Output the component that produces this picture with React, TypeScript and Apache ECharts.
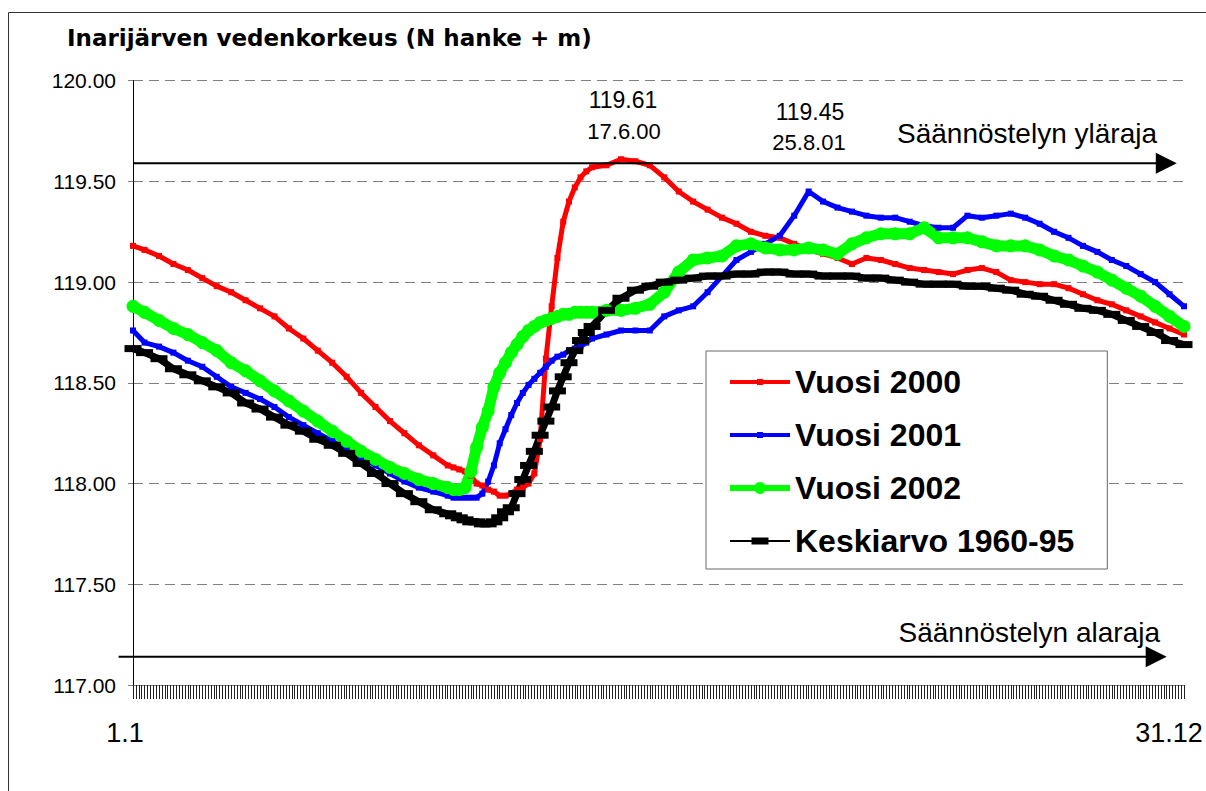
import { useEffect, useRef } from "react";
import * as echarts from "echarts";

// Day of year for each reading
const days = [
  1, 5, 10, 15, 20, 25, 30, 35, 40, 45, 50, 55, 60, 65, 70, 75, 80, 85, 90, 95, 100, 105, 110,
  112, 114, 116, 118, 120, 122, 124, 126, 128, 130, 132, 134, 136, 138, 140, 142, 144, 146, 148, 150, 152, 154, 156, 158, 160,
  165, 170, 175, 180, 185, 190, 195, 200, 205, 210, 215, 220, 225, 230, 235, 240, 245, 250, 255, 260,
  265, 270, 275, 280, 285, 290, 295, 300, 305, 310, 315, 320, 325, 330, 335, 340, 345, 350, 355, 360, 365,
];

const vuosi2000 = [
  119.18, 119.16, 119.13, 119.09, 119.06, 119.02, 118.98, 118.95, 118.91, 118.87, 118.83, 118.77, 118.72, 118.66, 118.6, 118.53, 118.45, 118.38, 118.31, 118.25, 118.19, 118.14, 118.09,
  118.08, 118.07, 118.06, 118.04, 118.0, 117.99, 117.97, 117.96, 117.94, 117.94, 117.95, 117.97, 117.98, 118.0, 118.05, 118.22, 118.62, 118.88, 119.12, 119.3, 119.4, 119.47, 119.52, 119.55, 119.57,
  119.58, 119.61, 119.6, 119.58, 119.52, 119.45, 119.4, 119.36, 119.32, 119.29, 119.25, 119.23, 119.22, 119.19, 119.16, 119.14, 119.12, 119.09, 119.12, 119.11,
  119.09, 119.07, 119.06, 119.05, 119.04, 119.06, 119.07, 119.05, 119.01, 119.0, 118.99, 118.99, 118.97, 118.94, 118.91, 118.89, 118.86, 118.83, 118.8, 118.77, 118.74,
];

const vuosi2001 = [
  118.76, 118.7, 118.68, 118.65, 118.61, 118.58, 118.53, 118.48, 118.45, 118.42, 118.38, 118.33, 118.29, 118.25, 118.21, 118.17, 118.13, 118.09, 118.05, 118.01, 117.98, 117.96, 117.94,
  117.93, 117.93, 117.93, 117.93, 117.93, 117.95, 118.01, 118.09, 118.2, 118.27, 118.34, 118.4, 118.45, 118.49, 118.52, 118.55, 118.58, 118.61, 118.63, 118.64, 118.66, 118.67, 118.68, 118.7, 118.72,
  118.74, 118.76, 118.76, 118.76, 118.83, 118.86, 118.88, 118.95, 119.03, 119.11, 119.15, 119.19, 119.23, 119.33, 119.45, 119.4, 119.37, 119.35, 119.33, 119.32,
  119.32, 119.3, 119.28, 119.27, 119.27, 119.33, 119.32, 119.33, 119.34, 119.32, 119.29, 119.25, 119.22, 119.18, 119.15, 119.11, 119.08, 119.04, 119.0, 118.94, 118.88,
];

const vuosi2002 = [
  118.88, 118.85, 118.81, 118.77, 118.74, 118.7, 118.66, 118.6, 118.56, 118.51, 118.46, 118.41, 118.36, 118.31, 118.26, 118.21, 118.16, 118.12, 118.08, 118.05, 118.02, 118.0, 117.98,
  117.97, 117.97, 117.98, 118.06, 118.18, 118.28, 118.36, 118.48, 118.55, 118.6, 118.65, 118.69, 118.73, 118.76, 118.78, 118.8, 118.81, 118.82, 118.83, 118.84, 118.84, 118.85, 118.85, 118.85, 118.85,
  118.86, 118.86, 118.87, 118.89, 118.95, 119.05, 119.11, 119.12, 119.13, 119.18, 119.19, 119.17, 119.16, 119.16, 119.17, 119.16, 119.14, 119.19, 119.22, 119.24,
  119.24, 119.24, 119.27, 119.22, 119.22, 119.22, 119.2, 119.18, 119.18, 119.18, 119.16, 119.13, 119.11, 119.08, 119.05, 119.01, 118.97, 118.93, 118.88, 118.83, 118.78,
];

const keskiarvo = [
  118.67, 118.65, 118.62, 118.57, 118.54, 118.51, 118.48, 118.45, 118.4, 118.37, 118.33, 118.29, 118.26, 118.22, 118.19, 118.15, 118.1, 118.05, 118.0, 117.95, 117.91, 117.87, 117.85,
  117.84, 117.83, 117.82, 117.81, 117.81, 117.8, 117.8, 117.81, 117.83, 117.86, 117.88, 117.95, 118.02, 118.09, 118.16, 118.24, 118.31, 118.38, 118.46, 118.53, 118.6, 118.66, 118.71, 118.75, 118.78,
  118.86, 118.92, 118.96, 118.98, 119.0, 119.01, 119.02, 119.03, 119.03, 119.04, 119.04, 119.05, 119.05, 119.04, 119.04, 119.03, 119.03, 119.03, 119.02, 119.02,
  119.01, 119.0, 118.99, 118.99, 118.99, 118.98, 118.98, 118.97, 118.96, 118.94, 118.93, 118.91, 118.89, 118.87, 118.86, 118.84, 118.81, 118.78, 118.75, 118.71, 118.69,
];

const seriesNames = ["Vuosi 2000", "Vuosi 2001", "Vuosi 2002", "Keskiarvo 1960-95"];
const xTickLabels: Record<number, string> = { 1: "1.1", 365: "31.12" };
const ylaraja = 119.59;
const alaraja = 117.14;
const limitTexts = ["Säännöstelyn yläraja", "Säännöstelyn alaraja"];
const peakLabels = [
  { value: "119.61", date: "17.6.00" },
  { value: "119.45", date: "25.8.01" },
];
const titleText = "Inarijärven vedenkorkeus (N hanke + m)";

const pair = (vals: number[]) => days.map((d, i) => [d, vals[i]]);

const SANS = "'Liberation Sans', Arial, Helvetica, sans-serif";

const redIcon = "path://M0,1 L60,1 L60,5 L0,5 Z M27,0 L33,0 L33,6 L27,6 Z";
const greenIcon = "path://M0,3 L60,3 L60,9 L0,9 Z M24,6 A6,6 0 1,1 36,6 A6,6 0 1,1 24,6 Z";
const blackIcon = "path://M0,2.6 L60,2.6 L60,4.4 L0,4.4 Z M21.5,0 L38.5,0 L38.5,7 L21.5,7 Z";

export default function App() {
  const ref = useRef<HTMLDivElement>(null);

  useEffect(() => {
    const chart = echarts.init(ref.current!, undefined, { renderer: "svg" });
    const option: any = {
      animation: false,
      backgroundColor: "#ffffff",
      title: {
        text: titleText,
        left: 67,
        top: 26,
        padding: 0,
        textStyle: {
          fontFamily: "'DejaVu Sans', sans-serif",
          fontWeight: "bold",
          fontSize: 23,
          color: "#000",
        },
      },
      grid: { left: 133, right: 22, top: 80.7, bottom: 106, containLabel: false },
      xAxis: {
        type: "value",
        min: 1,
        max: 365,
        interval: 1,
        splitLine: { show: false },
        axisLine: { show: true, lineStyle: { color: "#808080", width: 1 } },
        axisTick: { show: true, length: 14, lineStyle: { color: "#222", width: 1 } },
        axisLabel: {
          show: true,
          margin: 34,
          formatter: (v: number) =>
            v === 1 ? "{a|" + xTickLabels[1] + "}" : v === 365 ? "{b|" + xTickLabels[365] + "}" : "",
          rich: {
            a: { fontFamily: SANS, fontSize: 27, color: "#000", padding: [0, 16, 0, 0] },
            b: { fontFamily: SANS, fontSize: 27, color: "#000", padding: [0, 30, 0, 0] },
          },
        },
      },
      yAxis: {
        type: "value",
        min: 117,
        max: 120,
        interval: 0.5,
        axisLine: { show: true, lineStyle: { color: "#000", width: 1 } },
        axisTick: { show: true, length: 5, inside: false, lineStyle: { color: "#808080" } },
        axisLabel: {
          margin: 17,
          fontFamily: SANS,
          fontSize: 21,
          color: "#000",
          formatter: (v: number) => v.toFixed(2),
        },
        splitLine: { show: true, lineStyle: { color: "#808080", type: [10, 6], width: 1 } },
      },
      legend: {
        orient: "vertical",
        left: 706,
        top: 351,
        padding: [13, 33, 10, 24],
        itemWidth: 60,
        itemHeight: 14,
        itemGap: 17,
        backgroundColor: "#ffffff",
        borderColor: "#666",
        borderWidth: 1,
        selectedMode: false,
        textStyle: { fontFamily: SANS, fontWeight: "bold", fontSize: 32, color: "#000", lineHeight: 36 },
        data: [
          { name: seriesNames[0], icon: redIcon, itemStyle: { color: "#ff0000", borderWidth: 0 } },
          { name: seriesNames[1], icon: redIcon, itemStyle: { color: "#0000ff", borderWidth: 0 } },
          { name: seriesNames[2], icon: greenIcon, itemStyle: { color: "#00ff00", borderWidth: 0 } },
          { name: seriesNames[3], icon: blackIcon, itemStyle: { color: "#000000", borderWidth: 0 } },
        ],
      },
      series: [
        {
          name: seriesNames[0],
          type: "line",
          data: pair(vuosi2000),
          symbol: "rect",
          symbolSize: 6,
          showSymbol: true,
          showAllSymbol: true,
          clip: false,
          color: "#ff0000",
          lineStyle: { color: "#ff0000", width: 5 },
          itemStyle: { color: "#ff0000", borderWidth: 0 },
          emphasis: { disabled: true },
        },
        {
          name: seriesNames[1],
          type: "line",
          data: pair(vuosi2001),
          symbol: "rect",
          symbolSize: 6,
          showSymbol: true,
          showAllSymbol: true,
          clip: false,
          color: "#0000ff",
          lineStyle: { color: "#0000ff", width: 5 },
          itemStyle: { color: "#0000ff", borderWidth: 0 },
          emphasis: { disabled: true },
        },
        {
          name: seriesNames[2],
          type: "line",
          data: pair(vuosi2002),
          symbol: "circle",
          symbolSize: 13,
          showSymbol: true,
          showAllSymbol: true,
          clip: false,
          color: "#00ff00",
          lineStyle: { color: "#00ff00", width: 11 },
          itemStyle: { color: "#00ff00", borderWidth: 0 },
          emphasis: { disabled: true },
        },
        {
          name: seriesNames[3],
          type: "line",
          data: pair(keskiarvo),
          symbol: "rect",
          symbolSize: [17, 7],
          showSymbol: true,
          showAllSymbol: true,
          clip: false,
          color: "#000000",
          lineStyle: { color: "#000000", width: 7 },
          itemStyle: { color: "#000000", borderWidth: 0 },
          emphasis: { disabled: true },
        },
      ],
    };
    chart.setOption(option);

    const px = (d: number, v: number) => chart.convertToPixel({ gridIndex: 0 }, [d, v]) as number[];
    const [xU0, yU] = px(1, ylaraja);
    const [xUTip] = px(362.5, ylaraja);
    const [xL0, yL] = px(-4, alaraja);
    const [xLTip] = px(359, alaraja);

    const arrow = (x0: number, xTip: number, y: number) => [
      {
        type: "line",
        silent: true,
        z: 10,
        shape: { x1: x0, y1: y, x2: xTip - 18, y2: y },
        style: { stroke: "#000", lineWidth: 2 },
      },
      {
        type: "polygon",
        silent: true,
        z: 10,
        shape: { points: [[xTip - 21, y - 10.5], [xTip, y], [xTip - 21, y + 10.5]] },
        style: { fill: "#000" },
      },
    ];

    const txt = (text: string, x: number, y: number, size: number, align: string) => ({
      type: "text",
      silent: true,
      z: 10,
      style: {
        text,
        x,
        y,
        fill: "#000",
        fontFamily: SANS,
        fontSize: size,
        align,
        verticalAlign: "middle",
      },
    });

    chart.setOption({
      graphic: [
        {
          type: "rect",
          silent: true,
          z: 0,
          shape: { x: 8.5, y: 12.5, width: 1300, height: 900 },
          style: { fill: "none", stroke: "#333", lineWidth: 1 },
        },
        ...arrow(xU0, xUTip, yU),
        ...arrow(xL0, xLTip, yL),
        txt(limitTexts[0], 1157, yU - 30, 28, "right"),
        txt(limitTexts[1], 1160, yL - 24, 28, "right"),
        txt(peakLabels[0].value, 623, 100, 23, "center"),
        txt(peakLabels[0].date, 624, 131.7, 22, "center"),
        txt(peakLabels[1].value, 810, 111.7, 23, "center"),
        txt(peakLabels[1].date, 809, 142.5, 22, "center"),
      ],
    });

    return () => chart.dispose();
  }, []);

  return (
    <div
      ref={ref}
      style={{ position: "fixed", left: 0, top: 0, width: 1206, height: 791, background: "#fff" }}
    />
  );
}
